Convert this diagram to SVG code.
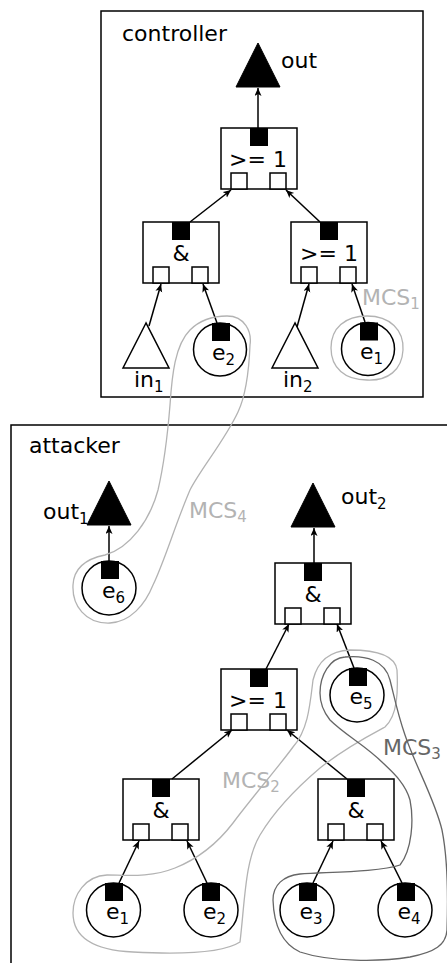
<svg xmlns="http://www.w3.org/2000/svg" width="447" height="963" viewBox="0 0 447 963">
<style>
text{font-family:"DejaVu Sans","Liberation Sans",sans-serif;font-size:22px;fill:#000}
.sub{font-size:15px}
.frame{fill:none;stroke:#000;stroke-width:1.5}
.box{fill:#fff;stroke:#000;stroke-width:1.5}
.blk{fill:#000;stroke:none}
.tri{fill:#000;stroke:#000;stroke-width:1}
.itri{fill:#fff;stroke:#000;stroke-width:1.5}
.leaf{fill:#fff;stroke:#000;stroke-width:1.5}
.edge{stroke:#000;stroke-width:1.5;fill:none;marker-end:url(#ah)}
.mcs{fill:none;stroke:#b3b3b3;stroke-width:1.3}
.mcsd{fill:none;stroke:#666;stroke-width:1.3}
.mt{fill:#b3b3b3}
.mtd{fill:#666}
</style>
<defs>
<marker id="ah" markerUnits="userSpaceOnUse" markerWidth="9" markerHeight="8" refX="8" refY="3.5" orient="auto">
<path d="M0,0 L8,3.5 L0,7 L2,3.5 z" fill="#000"/>
</marker>
<g id="gate">
<rect class="box" x="0" y="0" width="76" height="61"/>
<rect class="blk" x="29" y="0" width="18" height="18"/>
<rect class="box" x="10" y="45" width="16" height="16"/>
<rect class="box" x="49" y="45" width="16" height="16"/>
</g>
</defs>

<g id="controller">
<rect class="frame" x="101" y="11" width="322" height="386"/>
<text x="122" y="41">controller</text>
</g>
<g id="attacker">
<rect class="frame" x="11" y="425" width="460" height="560"/>
<text x="29" y="453">attacker</text>
</g>

<!-- controller nodes -->
<g id="c_out">
<polygon class="tri" points="258,43 236,87 280,87"/>
<text x="281" y="68">out</text>
</g>
<g id="c_or1">
<use href="#gate" x="221" y="128"/>
<text x="258" y="167" text-anchor="middle">&gt;= 1</text>
</g>
<g id="c_and">
<use href="#gate" x="143" y="222"/>
<text x="181" y="261" text-anchor="middle">&amp;</text>
</g>
<g id="c_or2">
<use href="#gate" x="291" y="222"/>
<text x="329" y="261" text-anchor="middle">&gt;= 1</text>
</g>
<g id="c_in1">
<polygon class="itri" points="146,323 123,368 169,368"/>
<text x="134" y="387">in<tspan class="sub" dy="5">1</tspan></text>
</g>
<g id="c_e2">
<circle class="leaf" cx="220" cy="349.5" r="26.5"/>
<rect class="blk" x="212" y="323" width="18" height="18"/>
<text x="212" y="360">e<tspan class="sub" dy="5">2</tspan></text>
</g>
<g id="c_in2">
<polygon class="itri" points="295,323 272,368 318,368"/>
<text x="283" y="387">in<tspan class="sub" dy="5">2</tspan></text>
</g>
<g id="c_e1">
<circle class="leaf" cx="368" cy="349" r="26.5"/>
<rect class="blk" x="360" y="322.5" width="18" height="18"/>
<text x="360" y="359">e<tspan class="sub" dy="5">1</tspan></text>
</g>

<!-- attacker nodes -->
<g id="a_out1">
<polygon class="tri" points="109,481 87,525 131,525"/>
<text x="43" y="519">out<tspan class="sub" dy="5">1</tspan></text>
</g>
<g id="a_e6">
<circle class="leaf" cx="109" cy="588" r="27"/>
<rect class="blk" x="101" y="561" width="18" height="18"/>
<text x="102" y="598">e<tspan class="sub" dy="5">6</tspan></text>
</g>
<g id="a_out2">
<polygon class="tri" points="313,483 291,527 335,527"/>
<text x="341" y="504">out<tspan class="sub" dy="5">2</tspan></text>
</g>
<g id="a_and1">
<use href="#gate" x="275" y="563"/>
<text x="313" y="602" text-anchor="middle">&amp;</text>
</g>
<g id="a_or">
<use href="#gate" x="221" y="669"/>
<text x="258" y="708" text-anchor="middle">&gt;= 1</text>
</g>
<g id="a_e5">
<circle class="leaf" cx="357" cy="695" r="27"/>
<rect class="blk" x="349" y="668" width="18" height="18"/>
<text x="349.5" y="704">e<tspan class="sub" dy="5">5</tspan></text>
</g>
<g id="a_and2">
<use href="#gate" x="123" y="779"/>
<text x="161" y="818" text-anchor="middle">&amp;</text>
</g>
<g id="a_and3">
<use href="#gate" x="318" y="779"/>
<text x="356" y="818" text-anchor="middle">&amp;</text>
</g>
<g id="a_e1">
<circle class="leaf" cx="113.5" cy="910" r="27"/>
<rect class="blk" x="105" y="883" width="18" height="18"/>
<text x="106" y="919">e<tspan class="sub" dy="5">1</tspan></text>
</g>
<g id="a_e2">
<circle class="leaf" cx="211" cy="910" r="27"/>
<rect class="blk" x="202" y="883" width="18" height="18"/>
<text x="203" y="919">e<tspan class="sub" dy="5">2</tspan></text>
</g>
<g id="a_e3">
<circle class="leaf" cx="307" cy="910" r="27"/>
<rect class="blk" x="299" y="883" width="18" height="18"/>
<text x="299.5" y="919">e<tspan class="sub" dy="5">3</tspan></text>
</g>
<g id="a_e4">
<circle class="leaf" cx="405" cy="910" r="27"/>
<rect class="blk" x="397" y="883" width="18" height="18"/>
<text x="397.5" y="919">e<tspan class="sub" dy="5">4</tspan></text>
</g>

<g id="connectors">
<line class="edge" x1="258" y1="128" x2="258" y2="88"/>
<line class="edge" x1="190" y1="222" x2="231" y2="190"/>
<line class="edge" x1="320" y1="222" x2="286" y2="190"/>
<line class="edge" x1="149" y1="326" x2="161" y2="284"/>
<line class="edge" x1="217" y1="323" x2="203" y2="284"/>
<line class="edge" x1="297" y1="327" x2="309" y2="284"/>
<line class="edge" x1="365" y1="322" x2="352" y2="284"/>
<line class="edge" x1="109" y1="561" x2="109" y2="526"/>
<line class="edge" x1="314" y1="563" x2="314" y2="528"/>
<line class="edge" x1="266" y1="669" x2="289" y2="624"/>
<line class="edge" x1="354" y1="668" x2="337" y2="624"/>
<line class="edge" x1="172" y1="779" x2="232" y2="730"/>
<line class="edge" x1="347" y1="779" x2="287" y2="730"/>
<line class="edge" x1="119" y1="883" x2="139" y2="841"/>
<line class="edge" x1="207" y1="883" x2="187" y2="841"/>
<line class="edge" x1="313" y1="883" x2="333" y2="841"/>
<line class="edge" x1="402" y1="883" x2="381" y2="841"/>
</g>

<g id="mcs">
<path class="mcs" d="M367,316 C390,316 404,330 403,350 C402,370 388,381 367,380 C345,380 331,368 331,348 C331,328 345,316 367,316 Z"/>
<text class="mt" x="362" y="305">MCS<tspan class="sub" dy="4">1</tspan></text>
<path class="mcs" d="M227,316 C245,316 252,332 250,345 C249,370 246,395 238,412 C225,440 200,470 190,490 C175,525 165,560 153,585 C145,605 130,622 110,623 C85,624 72,605 73,585 C74,565 90,558 105,555 C130,548 150,520 158,490 C165,460 168,430 170,405 C172,375 175,345 190,330 C200,320 212,316 227,316 Z"/>
<text class="mt" x="189" y="518">MCS<tspan class="sub" dy="4">4</tspan></text>
<path class="mcs" d="M240,942 C245,900 245,860 260,835 C275,810 300,785 320,768 C345,748 370,735 385,727 C398,715 398,690 397,670 C395,655 375,650 350,650 C330,651 318,660 313,680 C310,705 308,730 293,747 C280,765 250,800 233,823 C220,840 200,858 175,868 C150,878 125,875 107,875 C85,876 73,895 73,913 C73,935 90,950 133,952 C170,954 220,955 240,942 Z"/>
<text class="mt" x="222" y="788">MCS<tspan class="sub" dy="4">2</tspan></text>
<path class="mcsd" d="M320,693 C320,675 330,658 345,657 C365,655 385,660 390,680 C395,700 398,715 405,735 C415,765 435,800 442,830 C448,860 448,900 447,930 C446,945 435,952 410,957 C380,962 330,962 300,952 C285,945 274,930 273,900 C273,885 283,876 300,874 C330,872 380,872 400,865 C412,850 414,820 410,800 C405,782 390,770 383,763 C365,745 345,735 330,720 C322,710 320,700 320,693 Z"/>
<text class="mtd" x="383" y="755">MCS<tspan class="sub" dy="4">3</tspan></text>
</g>
</svg>
